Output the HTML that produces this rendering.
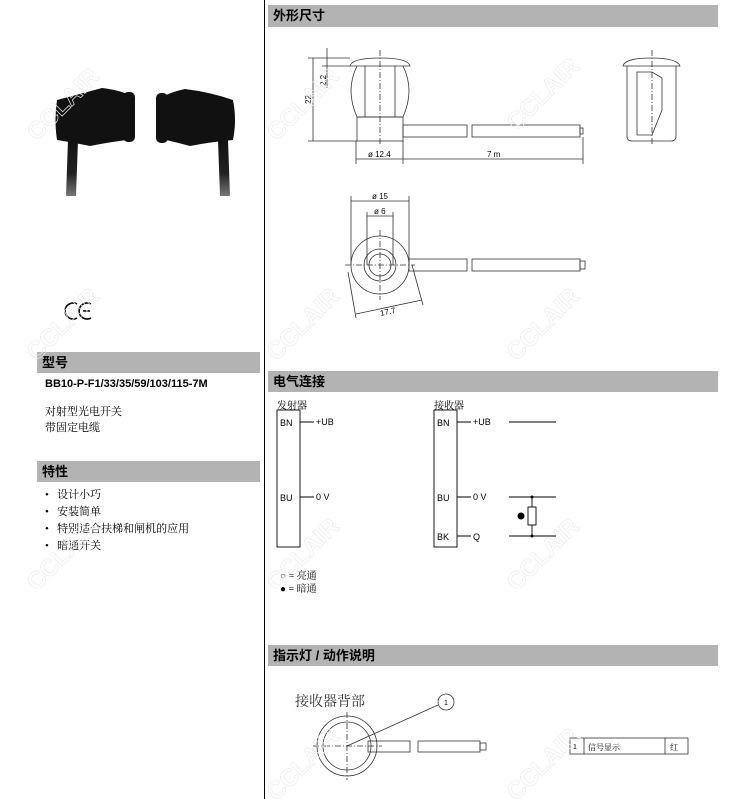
<!DOCTYPE html>
<html><head><meta charset="utf-8"><style>
body{margin:0;width:745px;height:799px;background:#fff;position:relative;overflow:hidden;font-family:"Liberation Sans","Noto Sans CJK SC",sans-serif;}
.h{position:absolute;background:#b3b3b3;font-weight:bold;font-size:13px;color:#000;line-height:21px;padding-left:5px;box-sizing:border-box;}
.t{position:absolute;font-size:11px;white-space:nowrap;}
.s{font-family:"Liberation Serif","Noto Serif CJK SC",serif;}
svg{position:absolute;left:0;top:0;}
</style></head><body>
<div style="position:absolute;left:264px;top:0;width:1px;height:799px;background:#000"></div>
<div class="h" style="left:268px;top:5px;width:450px;height:22px">外形尺寸</div>
<div class="h" style="left:268px;top:371px;width:450px;height:21px">电气连接</div>
<div class="h" style="left:268px;top:645px;width:450px;height:21px">指示灯 / 动作说明</div>
<div class="h" style="left:37px;top:352px;width:223px;height:21px">型号</div>
<div class="h" style="left:37px;top:461px;width:223px;height:21px">特性</div>
<div class="t" style="left:45px;top:378px;font-weight:bold;font-size:11px">BB10-P-F1/33/35/59/103/115-7M</div>
<div class="t s" style="left:45px;top:403px">对射型光电开关<br>带固定电缆</div>
<div class="t s" style="left:45px;top:487px;line-height:17px">•&nbsp;&nbsp;&nbsp;设计小巧<br>•&nbsp;&nbsp;&nbsp;安装简单<br>•&nbsp;&nbsp;&nbsp;特别适合扶梯和闸机的应用<br>•&nbsp;&nbsp;&nbsp;暗通开关</div>
<div class="t s" style="left:277px;top:397px;font-size:10px">发射器</div>
<div class="t s" style="left:434px;top:397px;font-size:10px">接收器</div>
<div class="t s" style="left:280px;top:570px;font-size:10px;line-height:13px">○ = 亮通<br>● = 暗通</div>
<div class="t s" style="left:295px;top:691px;font-size:14px;color:#333">接收器背部</div>
<svg width="745" height="799" font-family="Liberation Sans" font-size="9">
<defs><linearGradient id="cg" x1="0" y1="0" x2="0" y2="1"><stop offset="0" stop-color="#111"/><stop offset="0.6" stop-color="#222"/><stop offset="1" stop-color="#777"/></linearGradient></defs>
<g fill="#111">
<path d="M57 100 Q80 94 102 88 Q118 90 127 94 L127 140 Q110 142 90 146 Q70 142 57 140 Q54 120 57 100Z"/>
<rect x="123" y="92" width="12" height="50" rx="5"/>
<path d="M166 95 Q175 91 185 89 Q210 92 233 100 Q237 120 233 140 Q210 142 190 146 Q175 142 166 140Z"/>
<rect x="156" y="93" width="12" height="50" rx="5"/>
</g>
<path d="M68 140 L78 140 L76 196 L66 196Z" fill="url(#cg)"/>
<path d="M218 140 L228 140 L230 196 L220 196Z" fill="url(#cg)"/>
<g fill="none" stroke="#000" stroke-width="1.6">
<path d="M77 304 A8 8 0 1 0 77 318"/><path d="M91 304 A8 8 0 1 0 91 318 M83 311 H90"/>
</g>
<g fill="none" stroke="#333" stroke-width="0.8">
<path d="M350 66 Q352 58 380 58 Q408 58 410 66Z"/>
<path d="M357 66 Q345 90 357 117 L403 117 Q415 90 403 66"/>
<rect x="357" y="117" width="46" height="24"/>
<line x1="365" y1="66" x2="365" y2="117"/><line x1="395" y1="66" x2="395" y2="117"/>
<rect x="403" y="125" width="64" height="12"/><rect x="472" y="125" width="108" height="12"/><rect x="580" y="128" width="3" height="6"/>
<path d="M313 58 V141 M308 58 H350 M308 141 H357 M327 48 V88 M322 66 H350 M356 141 V164 M403 141 V164 M583 137 V164 M356 159 H583"/>
<path d="M623 66 Q625 58 651 58 Q677 58 680 66Z"/>
<path d="M627 66 V136 Q627 141 632 141 H671 Q676 141 676 136 V66"/>
<path d="M637 72 L652 72 L662 78 L662 110 L652 135 L637 135 Z"/>
<line x1="652" y1="50" x2="652" y2="145" stroke-dasharray="6 2 1 2"/>
<line x1="380" y1="50" x2="380" y2="145" stroke-dasharray="6 2 1 2"/>
<circle cx="380" cy="265" r="29"/><circle cx="380" cy="265" r="16"/><circle cx="380" cy="265" r="11"/>
<rect x="409" y="259" width="58" height="12"/><rect x="472" y="259" width="108" height="12"/><rect x="580" y="261" width="5" height="8"/>
<path d="M351 196 V265 M409 196 V265 M351 201 H409 M367 212 V265 M393 212 V265 M367 216 H393 M348 272 L356 318 M412 265 L423 305 M356 314 L422 300"/>
<line x1="380" y1="230" x2="380" y2="300" stroke-dasharray="6 2 1 2"/><line x1="345" y1="265" x2="415" y2="265" stroke-dasharray="6 2 1 2"/>
<circle cx="347" cy="746" r="30"/><circle cx="347" cy="746" r="24"/>
<line x1="347" y1="712" x2="347" y2="780" stroke-dasharray="6 2 1 2"/><line x1="313" y1="746" x2="382" y2="746" stroke-dasharray="6 2 1 2"/>
<rect x="368" y="741" width="42" height="11"/><rect x="418" y="741" width="62" height="11"/><rect x="480" y="743" width="6" height="7"/>
<line x1="347" y1="746" x2="438" y2="705"/><circle cx="446" cy="702" r="8"/>
<rect x="570" y="738" width="118" height="16"/><line x1="584" y1="738" x2="584" y2="754"/><line x1="665" y1="738" x2="665" y2="754"/>
</g>
<g fill="none" stroke="#000" stroke-width="0.9">
<rect x="277" y="410" width="23" height="137"/><rect x="434" y="410" width="23" height="137"/>
<path d="M300 422 H314 M300 497 H314 M457 422 H471 M457 497 H471 M457 536 H471 M509 422 H556 M509 497 H556 M509 536 H556 M532 497 V536"/>
<rect x="528" y="507" width="8" height="18" fill="#fff"/>
</g>
<circle cx="532" cy="497" r="1.5"/><circle cx="532" cy="536" r="1.5"/><circle cx="521" cy="516" r="3.5"/>
<g font-size="9">
<text x="280" y="426">BN</text><text x="280" y="501">BU</text><text x="316" y="425">+UB</text><text x="316" y="500">0 V</text>
<text x="437" y="426">BN</text><text x="437" y="501">BU</text><text x="437" y="540">BK</text><text x="473" y="425">+UB</text><text x="473" y="500">0 V</text><text x="473" y="540">Q</text>
<text x="368" y="157" font-size="8">ø 12.4</text><text x="487" y="157" font-size="8">7 m</text>
<text x="372" y="199" font-size="8">ø 15</text><text x="374" y="214" font-size="8">ø 6</text>
<text x="380" y="315" font-size="8" transform="rotate(-12 385 312)">17.7</text>
<text x="311" y="104" font-size="8" transform="rotate(-90 311 104)">22</text>
<text x="326" y="86" font-size="8" transform="rotate(-90 326 86)">2.2</text>
<text x="444" y="705" font-size="7">1</text>
<text x="573" y="749" font-size="7">1</text><text x="588" y="750" font-size="8" font-family="Noto Serif CJK SC">信号显示</text><text x="670" y="750" font-size="8" font-family="Noto Serif CJK SC">红</text>
</g>
<g fill="none" stroke="#ececec" stroke-width="0.7" font-size="24" font-weight="bold">
<text x="15" y="130" transform="rotate(-45 40 110)">CCLAIR</text>
<text x="15" y="350" transform="rotate(-45 40 330)">CCLAIR</text>
<text x="255" y="130" transform="rotate(-45 280 110)">CCLAIR</text>
<text x="255" y="350" transform="rotate(-45 280 330)">CCLAIR</text>
<text x="495" y="120" transform="rotate(-45 520 100)">CCLAIR</text>
<text x="495" y="350" transform="rotate(-45 520 330)">CCLAIR</text>
<text x="15" y="580" transform="rotate(-45 40 560)">CCLAIR</text>
<text x="255" y="580" transform="rotate(-45 280 560)">CCLAIR</text>
<text x="495" y="580" transform="rotate(-45 520 560)">CCLAIR</text>
<text x="255" y="790" transform="rotate(-45 280 770)">CCLAIR</text>
<text x="495" y="790" transform="rotate(-45 520 770)">CCLAIR</text>
</g>
</svg>
</body></html>
